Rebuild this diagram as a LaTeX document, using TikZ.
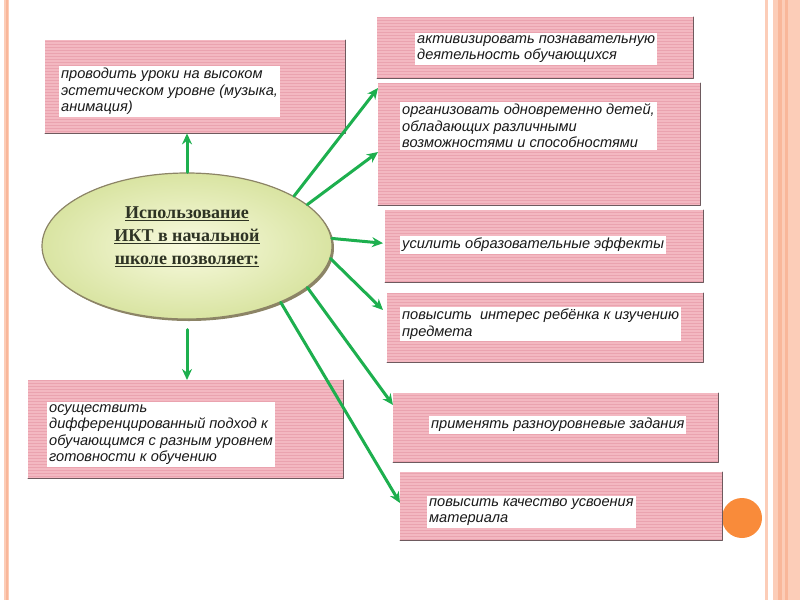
\documentclass[tikz,border=0pt]{standalone}
\usepackage{fontspec}
\setmainfont{Liberation Serif}
\newfontfamily\boxfont{Liberation Sans}
\usetikzlibrary{arrows.meta,shapes.geometric,patterns,shadows}
\definecolor{boxpink}{HTML}{F3B8C1}
\definecolor{boxstripe}{HTML}{EAA3AF}
\definecolor{boxedge}{HTML}{6E5A5E}
\definecolor{arrowgreen}{HTML}{1DAF4E}
\definecolor{ellinner}{HTML}{F8FADF}
\definecolor{ellouter}{HTML}{D9E4A2}
\definecolor{elledge}{HTML}{8C8466}
\definecolor{elltext}{HTML}{2E3324}
\definecolor{bordpale}{HTML}{FCCDB8}
\definecolor{bordmid}{HTML}{F9B79A}
\definecolor{dotorange}{HTML}{F98B3A}
\tikzset{
  item box/.style={anchor=north west,inner sep=0pt,fill=boxpink,
    postaction={pattern=horizontal lines,pattern color=boxstripe}},
  item text/.style={anchor=north west,fill=white,align=left,inner sep=2pt,
    font=\boxfont\itshape\fontsize{14.6}{16.5}\selectfont,text=black!90},
  item arrow/.style={draw=arrowgreen,line width=3pt,-{Stealth[length=11pt,width=10pt]}},
  box edge/.style={draw=boxedge,line width=1pt}
}

\begin{document}
\begin{tikzpicture}[x=1pt,y=-1pt,line cap=round,line join=round]
  \useasboundingbox (0,0) rectangle (800,600);
  % slide borders
  \fill[bordpale] (4,0) rectangle (9,600);
  \fill[bordmid] (5.5,0) rectangle (7.5,600);
  \fill[bordpale] (765,0) rectangle (768,600);
  \fill[bordpale] (773,0) rectangle (800,600);
  \fill[bordmid] (778,0) rectangle (782,600);
  \fill[bordmid] (785,0) rectangle (788,600);
  \fill[dotorange] (742,518) circle (20pt);

  % boxes
  \node[item box,minimum width=300pt,minimum height=93pt] (aesth) at (45,40) {};
  \node[item box,minimum width=316pt,minimum height=61pt] (activ) at (377,17) {};
  \node[item box,minimum width=322pt,minimum height=122pt] (organ) at (378,83) {};
  \node[item box,minimum width=318pt,minimum height=72pt] (effect) at (385,210) {};
  \node[item box,minimum width=316pt,minimum height=69pt] (interest) at (387,293) {};
  \node[item box,minimum width=325pt,minimum height=69pt] (levels) at (393,393) {};
  \node[item box,minimum width=322pt,minimum height=68pt] (quality) at (400,472) {};
  \node[item box,minimum width=315pt,minimum height=98pt] (differ) at (28,380) {};
  \foreach \b in {aesth,activ,organ,effect,interest,levels,quality,differ}
    {\draw[box edge] (\b.north east) -- (\b.south east) -- (\b.south west);}

  \node[item text] (aesthtext) at (59,66) {проводить уроки на высоком\\эстетическом уровне (музыка,\\анимация)};
  \node[item text] (activtext) at (415,33) {активизировать познавательную\\деятельность обучающихся};
  \node[item text] (organtext) at (400,102) {организовать одновременно детей,\\обладающих различными\\возможностями и способностями};
  \node[item text] (effecttext) at (400,236) {усилить образовательные эффекты};
  \node[item text] (interesttext) at (400,307) {повысить~ интерес ребёнка к изучению\\предмета};
  \node[item text] (levelstext) at (429,416) {применять разноуровневые задания};
  \node[item text] (qualitytext) at (427,496) {повысить качество усвоения\\материала};
  \node[item text] (differtext) at (47,402) {осуществить\\дифференцированный подход к\\обучающимся с разным уровнем\\готовности к обучению};

  % central ellipse
  \node[ellipse,minimum width=290pt,minimum height=146pt,inner sep=0pt,
        inner color=ellinner,outer color=ellouter,draw=elledge,line width=1.2pt,
        drop shadow={shadow xshift=2pt,shadow yshift=-2pt,fill=elledge,opacity=1}]
        (ict) at (187,246) {};
  \node[align=center,text=elltext,font=\bfseries\fontsize{18}{23}\selectfont]
        (ictlabel) at ([yshift=9pt]ict.center)
        {\underline{Использование}\\\underline{ИКТ в начальной}\\\underline{школе позволяет:}};

  % arrows
  \draw[item arrow] (ict.north) -- (ict.north |- aesth.south);
  \draw[item arrow] ([yshift=-10pt]ict.south) -- (ict.south |- differ.north);
  \draw[item arrow] (ict.25) -- ([yshift=-5pt]organ.north west);
  \draw[item arrow] (ict.19) -- ([yshift=-69pt]organ.north west);
  \draw[item arrow] (ict.3) -- ([xshift=-2pt,yshift=3pt]effect.west);
  \draw[item arrow] (ict.-5) -- ([xshift=-4pt,yshift=-17pt]interest.north west);
  \draw[item arrow] (ict.-19) -- ([yshift=-12pt]levels.north west);
  \draw[item arrow] (ict.-31) -- ([yshift=-31pt]quality.north west);
\end{tikzpicture}
\end{document}
